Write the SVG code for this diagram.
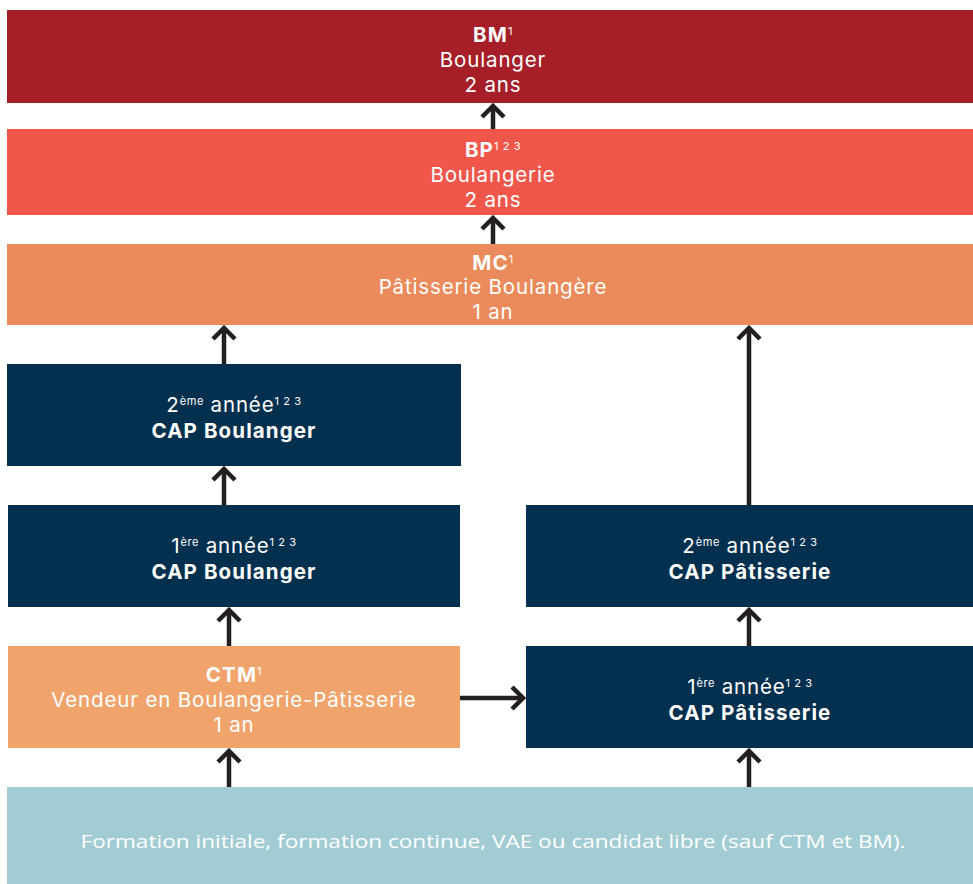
<svg xmlns="http://www.w3.org/2000/svg" width="973" height="884" viewBox="0 0 973 884">
<style>
text{font-family:Inter,"Open Sans",sans-serif;fill:#fff;text-anchor:middle;font-size:20.5px;letter-spacing:0.85px}
.b{font-weight:700;letter-spacing:1.1px}
.sup{font-size:11px;letter-spacing:0.6px;font-weight:400}
.con line{stroke:#231F20;stroke-width:4.5;fill:none}
.bot{font-family:"Open Sans",sans-serif;font-size:19px;letter-spacing:0}
</style>
<defs>
<marker id="ah" viewBox="0 0 16 26" refX="13" refY="13" markerWidth="16" markerHeight="26" markerUnits="userSpaceOnUse" orient="auto">
<path d="M2,2 L13,13 L2,24" fill="none" stroke="#231F20" stroke-width="4.5"/>
</marker>
</defs>
<rect width="973" height="884" fill="#fff"/>
<g id="bm">
<rect x="7" y="10" width="966" height="93" fill="#A51E28"/>
<text x="493" y="42"><tspan class="b">BM</tspan><tspan class="sup" dy="-7">1</tspan></text>
<text x="493" y="67">Boulanger</text>
<text x="493" y="92">2 ans</text>
</g>
<g id="bp">
<rect x="7" y="129" width="966" height="86" fill="#F0574A"/>
<text x="493" y="157"><tspan class="b">BP</tspan><tspan class="sup" dy="-7">1 2 3</tspan></text>
<text x="493" y="182">Boulangerie</text>
<text x="493" y="207">2 ans</text>
</g>
<g id="mc">
<rect x="7" y="244" width="966" height="81" fill="#EB8A5A"/>
<text x="493" y="270"><tspan class="b">MC</tspan><tspan class="sup" dy="-7">1</tspan></text>
<text x="493" y="294">Pâtisserie Boulangère</text>
<text x="493" y="319">1 an</text>
</g>
<g id="capb2">
<rect x="7" y="364" width="454" height="102" fill="#04304F"/>
<text x="234" y="412">2<tspan class="sup" dy="-7">ème</tspan><tspan dy="7"> année</tspan><tspan class="sup" dy="-7">1 2 3</tspan></text>
<text x="234" y="438" class="b">CAP Boulanger</text>
</g>
<g id="capb1">
<rect x="8" y="505" width="452" height="102" fill="#04304F"/>
<text x="234" y="553">1<tspan class="sup" dy="-7">ère</tspan><tspan dy="7"> année</tspan><tspan class="sup" dy="-7">1 2 3</tspan></text>
<text x="234" y="579" class="b">CAP Boulanger</text>
</g>
<g id="capp2">
<rect x="526" y="505" width="447" height="102" fill="#04304F"/>
<text x="750" y="553">2<tspan class="sup" dy="-7">ème</tspan><tspan dy="7"> année</tspan><tspan class="sup" dy="-7">1 2 3</tspan></text>
<text x="750" y="579" class="b">CAP Pâtisserie</text>
</g>
<g id="ctm">
<rect x="8" y="646" width="452" height="102" fill="#F0A46C"/>
<text x="234" y="682"><tspan class="b">CTM</tspan><tspan class="sup" dy="-7">1</tspan></text>
<text x="234" y="707">Vendeur en Boulangerie-Pâtisserie</text>
<text x="234" y="732">1 an</text>
</g>
<g id="capp1">
<rect x="526" y="646" width="447" height="102" fill="#04304F"/>
<text x="750" y="694">1<tspan class="sup" dy="-7">ère</tspan><tspan dy="7"> année</tspan><tspan class="sup" dy="-7">1 2 3</tspan></text>
<text x="750" y="720" class="b">CAP Pâtisserie</text>
</g>
<g id="base">
<rect x="7" y="787" width="966" height="97" fill="#A2CCD4"/>
<text x="493" y="848" class="bot" textLength="825" lengthAdjust="spacingAndGlyphs">Formation initiale, formation continue, VAE ou candidat libre (sauf CTM et BM).</text>
</g>
<g class="con">
<line x1="493" y1="129" x2="493" y2="106" marker-end="url(#ah)"/>
<line x1="493" y1="244" x2="493" y2="218" marker-end="url(#ah)"/>
<line x1="224" y1="364" x2="224" y2="328" marker-end="url(#ah)"/>
<line x1="224" y1="505" x2="224" y2="469" marker-end="url(#ah)"/>
<line x1="229" y1="646" x2="229" y2="610" marker-end="url(#ah)"/>
<line x1="229" y1="787" x2="229" y2="751" marker-end="url(#ah)"/>
<line x1="749" y1="787" x2="749" y2="751" marker-end="url(#ah)"/>
<line x1="749" y1="646" x2="749" y2="610" marker-end="url(#ah)"/>
<line x1="749" y1="505" x2="749" y2="328" marker-end="url(#ah)"/>
<line x1="460" y1="698" x2="523" y2="698" marker-end="url(#ah)"/>
</g>
</svg>
